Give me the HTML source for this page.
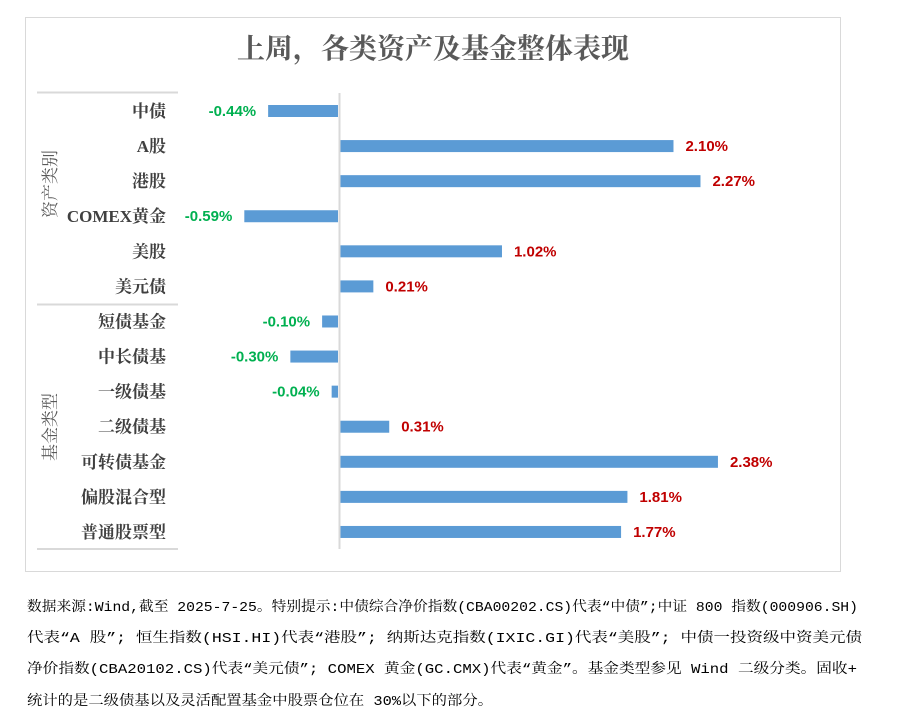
<!DOCTYPE html>
<html><head><meta charset="utf-8"><style>
body{margin:0;background:#fff;width:903px;height:717px;overflow:hidden}
svg{display:block}
.cat{font-family:"Liberation Serif","Noto Serif CJK SC",serif;font-weight:bold;font-size:17px;fill:#404040}
.val{font-family:"Liberation Sans","Noto Sans CJK SC",sans-serif;font-weight:bold;font-size:15px}
.ft{font-family:"Liberation Mono","Noto Serif CJK SC",monospace;font-size:14px;fill:#000}
</style></head><body>
<svg id="c" width="903" height="717">
<rect x="25.5" y="17.5" width="815" height="554" fill="#fff" stroke="#d9d9d9"/>
<text x="433" y="58" text-anchor="middle" font-family="'Liberation Serif','Noto Serif CJK SC',serif" font-weight="bold" font-size="28" fill="#595959">上周，各类资产及基金整体表现</text>
<line x1="37" y1="92.5" x2="178" y2="92.5" stroke="#d9d9d9" stroke-width="2"/>
<line x1="37" y1="304.5" x2="178" y2="304.5" stroke="#d9d9d9" stroke-width="2"/>
<line x1="37" y1="549" x2="178" y2="549" stroke="#d9d9d9" stroke-width="2"/>
<text transform="translate(56,184) rotate(-90)" text-anchor="middle" font-family="'Liberation Serif','Noto Serif CJK SC',serif" font-size="17" fill="#595959">资产类别</text>
<text transform="translate(56,427) rotate(-90)" text-anchor="middle" font-family="'Liberation Serif','Noto Serif CJK SC',serif" font-size="17" fill="#595959">基金类型</text>
<g id="plot"></g>
<line x1="339.5" y1="93" x2="339.5" y2="549" stroke="#d9d9d9" stroke-width="2"/>
<text class="ft" x="27" y="611" textLength="831" lengthAdjust="spacingAndGlyphs">数据来源:Wind,截至 2025-7-25。特别提示:中债综合净价指数(CBA00202.CS)代表“中债”;中证 800 指数(000906.SH)</text>
<text class="ft" x="27" y="642" textLength="835" lengthAdjust="spacingAndGlyphs">代表“A 股”; 恒生指数(HSI.HI)代表“港股”; 纳斯达克指数(IXIC.GI)代表“美股”; 中债一投资级中资美元债</text>
<text class="ft" x="27" y="673" textLength="830" lengthAdjust="spacingAndGlyphs">净价指数(CBA20102.CS)代表“美元债”; COMEX 黄金(GC.CMX)代表“黄金”。基金类型参见 Wind 二级分类。固收+</text>
<text class="ft" x="27" y="705" textLength="466" lengthAdjust="spacingAndGlyphs">统计的是二级债基以及灵活配置基金中股票仓位在 30%以下的部分。</text>
</svg>
<script>
const categories=["中债","A股","港股","COMEX黄金","美股","美元债","短债基金","中长债基","一级债基","二级债基","可转债基金","偏股混合型","普通股票型"];
const values=[-0.44,2.10,2.27,-0.59,1.02,0.21,-0.10,-0.30,-0.04,0.31,2.38,1.81,1.77];
const labels=["-0.44%","2.10%","2.27%","-0.59%","1.02%","0.21%","-0.10%","-0.30%","-0.04%","0.31%","2.38%","1.81%","1.77%"];
const NS="http://www.w3.org/2000/svg";
const x=v=>339+v*158.8;
const y=i=>111+i*35.08;
const g=document.getElementById('plot');
function mk(t,a){const e=document.createElementNS(NS,t);for(const k in a)e.setAttribute(k,a[k]);return e;}
categories.forEach((c,i)=>{
  const t=mk('text',{x:166,y:y(i)+6,'text-anchor':'end',class:'cat'});
  t.textContent=c;
  
  
  g.appendChild(t);
  const v=values[i];
  const x0=Math.min(x(0),x(v)),w=Math.abs(x(v)-x(0));
  const r=mk('rect',{x:x0+(v>=0?1:-1),y:y(i)-6,width:w,height:12,fill:'#5b9bd5'});
  
  
  g.appendChild(r);
  const l=mk('text',{class:'val',y:y(i)+5,fill:v>=0?'#c00000':'#00b050'});
  if(v>=0){l.setAttribute('x',x(v)+13);}else{l.setAttribute('x',x(v)-13);l.setAttribute('text-anchor','end');}
  l.textContent=labels[i];
  
  
  g.appendChild(l);
});
</script>
</body></html>
